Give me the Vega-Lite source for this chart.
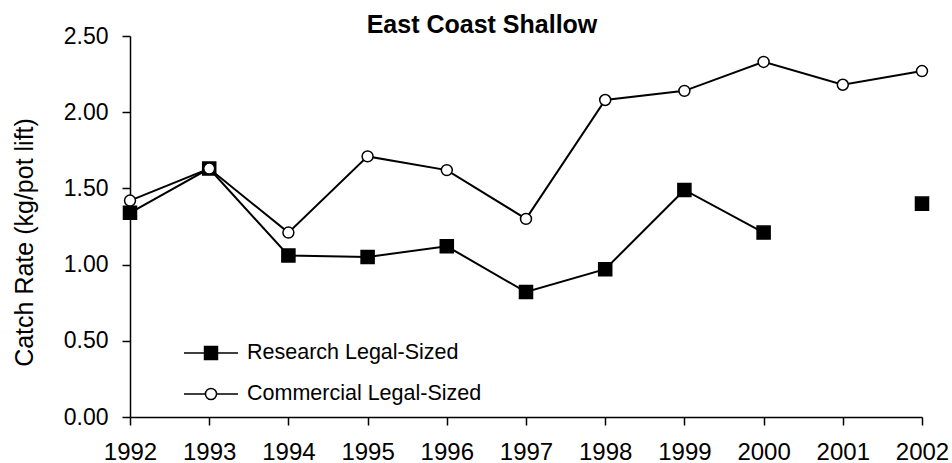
{
  "$schema": "https://vega.github.io/schema/vega-lite/v6.json",
  "width": 792,
  "height": 381,
  "autosize": {"type": "none"},
  "padding": {"left": 130, "top": 36, "right": 30, "bottom": 46},
  "background": "white",
  "config": {
    "font": "Liberation Sans",
    "view": {"stroke": null},
    "axis": {
      "grid": false,
      "domainColor": "black",
      "tickColor": "black",
      "labelColor": "black",
      "titleColor": "black",
      "domainWidth": 1.5,
      "tickWidth": 1.5
    }
  },
  "title": {
    "text": "East Coast Shallow",
    "fontSize": 25,
    "fontWeight": "bold",
    "color": "black",
    "anchor": "middle",
    "baseline": "alphabetic",
    "offset": 1,
    "dx": -44,
    "dy": 34
  },
  "data": {
    "values": [
      {"year": 1992, "series": "Research Legal-Sized", "rate": 1.34},
      {"year": 1993, "series": "Research Legal-Sized", "rate": 1.63},
      {"year": 1994, "series": "Research Legal-Sized", "rate": 1.06},
      {"year": 1995, "series": "Research Legal-Sized", "rate": 1.05},
      {"year": 1996, "series": "Research Legal-Sized", "rate": 1.12},
      {"year": 1997, "series": "Research Legal-Sized", "rate": 0.82},
      {"year": 1998, "series": "Research Legal-Sized", "rate": 0.97},
      {"year": 1999, "series": "Research Legal-Sized", "rate": 1.49},
      {"year": 2000, "series": "Research Legal-Sized", "rate": 1.21},
      {"year": 2001, "series": "Research Legal-Sized", "rate": null},
      {"year": 2002, "series": "Research Legal-Sized", "rate": 1.40},
      {"year": 1992, "series": "Commercial Legal-Sized", "rate": 1.42},
      {"year": 1993, "series": "Commercial Legal-Sized", "rate": 1.63},
      {"year": 1994, "series": "Commercial Legal-Sized", "rate": 1.21},
      {"year": 1995, "series": "Commercial Legal-Sized", "rate": 1.71},
      {"year": 1996, "series": "Commercial Legal-Sized", "rate": 1.62},
      {"year": 1997, "series": "Commercial Legal-Sized", "rate": 1.30},
      {"year": 1998, "series": "Commercial Legal-Sized", "rate": 2.08},
      {"year": 1999, "series": "Commercial Legal-Sized", "rate": 2.14},
      {"year": 2000, "series": "Commercial Legal-Sized", "rate": 2.33},
      {"year": 2001, "series": "Commercial Legal-Sized", "rate": 2.18},
      {"year": 2002, "series": "Commercial Legal-Sized", "rate": 2.27}
    ]
  },
  "encoding": {
    "x": {
      "field": "year",
      "type": "quantitative",
      "scale": {"domain": [1992, 2002], "nice": false, "zero": false},
      "axis": {
        "title": null,
        "values": [1992, 1993, 1994, 1995, 1996, 1997, 1998, 1999, 2000, 2001, 2002],
        "format": "d",
        "labelFontSize": 24,
        "labelBaseline": "alphabetic",
        "tickSize": 8,
        "labelPadding": 34,
        "labelFlush": false,
        "labelOverlap": false
      }
    },
    "y": {
      "field": "rate",
      "type": "quantitative",
      "scale": {"domain": [0, 2.5], "nice": false},
      "axis": {
        "title": "Catch Rate (kg/pot lift)",
        "values": [0, 0.5, 1, 1.5, 2, 2.5],
        "format": ".2f",
        "labelFontSize": 23,
        "tickSize": 8,
        "labelPadding": 14,
        "titleFontSize": 25,
        "titleFontWeight": "normal",
        "titleX": -106,
        "titleY": 206,
        "titleAngle": -90,
        "titleAlign": "center",
        "titleBaseline": "middle",
        "labelFlush": false
      }
    }
  },
  "layer": [
    {
      "mark": {"type": "line", "strokeWidth": 2, "invalid": "break-paths-show-domains"},
      "encoding": {
        "color": {
          "field": "series",
          "type": "nominal",
          "scale": {"domain": ["Research Legal-Sized", "Commercial Legal-Sized"], "range": ["black", "black"]},
          "legend": {
            "title": null,
            "orient": "none",
            "legendX": 66.5,
            "legendY": 302.5,
            "padding": 0,
            "symbolSize": 729,
            "symbolStrokeWidth": 1.5,
            "labelFontSize": 21.5,
            "labelColor": "black",
            "labelOffset": 21.5,
            "labelLimit": 400,
            "rowPadding": 16,
            "encode": {
              "symbols": {
                "update": {
                  "shape": {"signal": "datum.value === 'Research Legal-Sized' ? 'M-2,0H2M-0.48,-0.48H0.48V0.48H-0.48Z' : 'M-2,0H-0.41M0.41,0H2M-0.41,0A0.41,0.41,0,1,0,0.41,0A0.41,0.41,0,1,0,-0.41,0Z'"},
                  "fill": {"signal": "datum.value === 'Research Legal-Sized' ? 'black' : 'white'"},
                  "stroke": {"value": "black"},
                  "strokeWidth": {"value": 1.5},
                  "size": {"value": 729},
                  "opacity": {"value": 1},
                  "fillOpacity": {"value": 1}
                }
              }
            }
          }
        }
      }
    },
    {
      "transform": [{"filter": "datum.series === 'Research Legal-Sized'"}],
      "mark": {"type": "point", "shape": "square", "size": 170, "filled": true, "fill": "black", "stroke": "black", "strokeWidth": 1.5, "opacity": 1}
    },
    {
      "transform": [{"filter": "datum.series === 'Commercial Legal-Sized'"}],
      "mark": {"type": "point", "shape": "circle", "size": 120, "filled": true, "fill": "white", "stroke": "black", "strokeWidth": 1.5, "opacity": 1}
    }
  ]
}
